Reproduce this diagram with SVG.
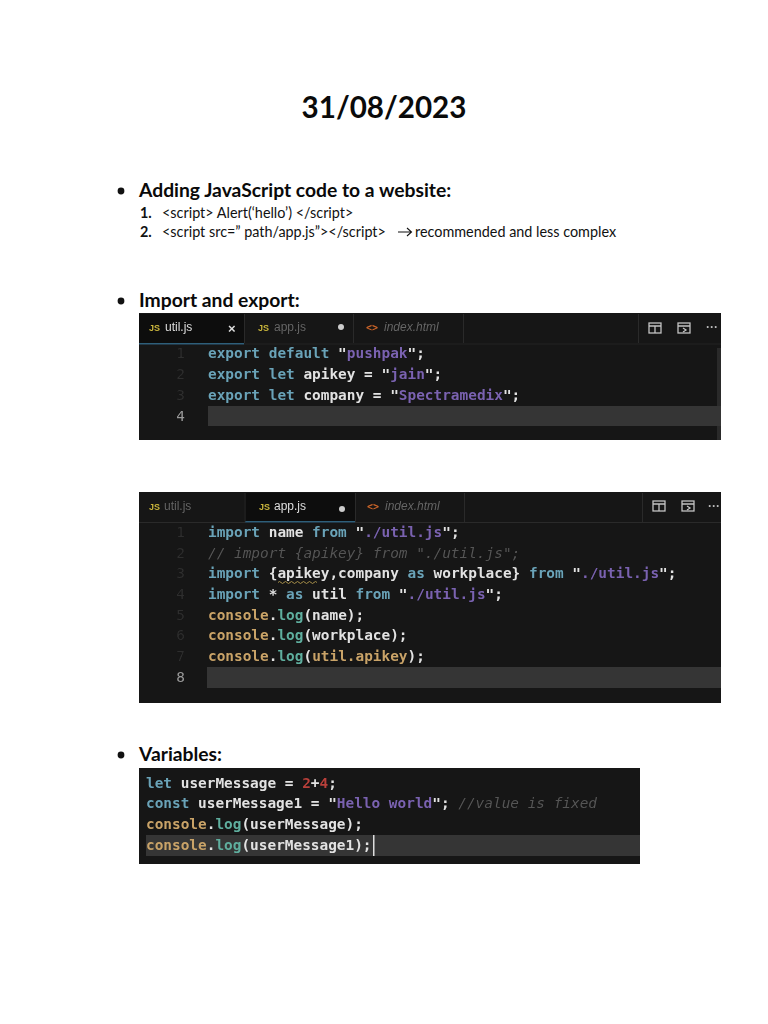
<svg xmlns="http://www.w3.org/2000/svg" width="768" height="1024" viewBox="0 0 768 1024">
<style>
.h{font-family:Lato,"Liberation Sans",sans-serif;font-weight:700;font-size:19.3px;fill:#0a0a0a}
.b{font-family:Lato,"Liberation Sans",sans-serif;font-size:14.4px;fill:#111}
.n{font-weight:700}
.c{font-family:"DejaVu Sans Mono",monospace;font-size:14.42px;fill:#e2e2e2;font-weight:700}
.ln{font-family:"DejaVu Sans Mono",monospace;font-size:14.4px;fill:#2e2e2e;text-anchor:end}
.tab{font-family:"Liberation Sans",sans-serif;font-size:12px;fill:#666}
.act{fill:#ddd}
.i{font-style:italic}
.js{font-family:"Liberation Sans",sans-serif;font-size:9px;font-weight:700;fill:#c9b53c}
.ht{font-family:"DejaVu Sans Mono",monospace;font-size:10px;font-weight:700;fill:#c8642a}
.k{fill:#6aa3b8}.s{fill:#7a62b0}.y{fill:#c9a368}.g{fill:#5fae9e}.r{fill:#b8403a}.m{fill:#555;font-style:italic;font-weight:400}
.cur{fill:#343434}.ico{fill:none;stroke:#c4c4c4;stroke-width:1.3}.sep{stroke:#2a2a2a;stroke-width:1}
.dots{font-family:"Liberation Sans",sans-serif;font-size:12px;font-weight:700;fill:#bbb}
</style>
<defs><filter id="soft" x="-2%" y="-2%" width="104%" height="104%"><feGaussianBlur stdDeviation="0.45"/></filter></defs>
<rect width="768" height="1024" fill="#fff"/>
<text id="title" x="384" y="118" text-anchor="middle" style="font-family:Lato,'Liberation Sans',sans-serif;font-weight:700;font-size:29.6px;fill:#0a0a0a">31/08/2023</text>

<g id="section-adding">
<circle cx="121" cy="191" r="3.4" fill="#111"/>
<text class="h" x="139" y="197">Adding JavaScript code to a website:</text>
<text class="b n" x="140" y="218">1.</text>
<text class="b" x="162" y="218">&lt;script&gt; Alert(‘hello’) &lt;/script&gt;</text>
<text class="b n" x="140" y="237">2.</text>
<text class="b" x="162" y="237">&lt;script src=” path/app.js”&gt;&lt;/script&gt;</text>
<path d="M398 232H411M407 228L411.500 232L407 236" fill="none" stroke="#111" stroke-width="1.100"/>
<text class="b" x="415" y="237">recommended and less complex</text>
</g>

<g id="section-import">
<circle cx="121" cy="301" r="3.4" fill="#111"/>
<text class="h" x="139" y="307">Import and export:</text>
</g>

<g id="panel-util" filter="url(#soft)">
<rect x="139" y="313" width="582" height="127" fill="#131313"/>
<rect x="139" y="314" width="105" height="29" fill="#0f0f0f"/>
<rect x="139" y="343" width="105" height="1.500" fill="#2f5f7a"/>
<rect x="717" y="348" width="4" height="92" fill="#2a2a2a"/>
<path class="sep" d="M244.500 314V343M353.500 314V343M463.500 314V343M638.500 314V343M244 344H721"/>
<text class="js" x="149" y="331">JS</text><text class="tab act" x="165" y="331">util.js</text>
<text x="228" y="333" style="font-family:'Liberation Sans',sans-serif;font-size:13px;font-weight:700;fill:#ddd">×</text>
<text class="js" x="258" y="331">JS</text><text class="tab" x="274" y="331">app.js</text>
<circle cx="341" cy="327" r="3" fill="#ccc"/>
<text class="ht" x="366" y="331">&lt;&gt;</text><text class="tab i" x="384" y="331">index.html</text>
<g class="ico"><rect x="649" y="323" width="12" height="10"/><path d="M649 326H661M655 326V333"/><rect x="678" y="323" width="12" height="10"/><path d="M678 326H690M683 328L686 330L683 332"/></g>
<text class="dots" x="706" y="331">···</text>
<rect class="cur" x="208" y="406" width="513" height="20"/>
<text class="ln" x="185" y="358">1</text><text class="ln" x="185" y="379">2</text><text class="ln" x="185" y="400">3</text><text class="ln" x="185" y="421" style="fill:#999">4</text>
<text class="c" x="208" y="358"><tspan class="k">export default</tspan> "<tspan class="s">pushpak</tspan>";</text>
<text class="c" x="208" y="379"><tspan class="k">export let</tspan> apikey = "<tspan class="s">jain</tspan>";</text>
<text class="c" x="208" y="400"><tspan class="k">export let</tspan> company = "<tspan class="s">Spectramedix</tspan>";</text>
</g>

<g id="panel-app" filter="url(#soft)">
<rect x="139" y="492" width="582" height="211" fill="#131313"/>
<rect x="245" y="493" width="110" height="28" fill="#0f0f0f"/>
<rect x="245" y="521" width="110" height="1.500" fill="#2f5f7a"/>
<path class="sep" d="M245 493V522M355.500 493V522M464.500 493V522M642.500 493V522M139 522.500H245M355 522.500H721"/>
<text class="js" x="149" y="510">JS</text><text class="tab" x="164" y="510">util.js</text>
<text class="js" x="259" y="510">JS</text><text class="tab act" x="274" y="510">app.js</text>
<circle cx="342" cy="509" r="3" fill="#ccc"/>
<text class="ht" x="367" y="510">&lt;&gt;</text><text class="tab i" x="385" y="510">index.html</text>
<g class="ico"><rect x="653" y="501" width="12" height="10"/><path d="M653 504H665M659 504V511"/><rect x="682" y="501" width="12" height="10"/><path d="M682 504H694M687 506L690 508L687 510"/></g>
<text class="dots" x="708" y="510">···</text>
<rect class="cur" x="207" y="667" width="514" height="21"/>
<text class="ln" x="185" y="537">1</text><text class="ln" x="185" y="558">2</text><text class="ln" x="185" y="578">3</text><text class="ln" x="185" y="599">4</text><text class="ln" x="185" y="620">5</text><text class="ln" x="185" y="640">6</text><text class="ln" x="185" y="661">7</text><text class="ln" x="185" y="682" style="fill:#999">8</text>
<text class="c" x="208" y="537"><tspan class="k">import</tspan> name <tspan class="k">from</tspan> "<tspan class="s">./util.js</tspan>";</text>
<text class="c m" x="208" y="558">// import {apikey} from "./util.js";</text>
<text class="c" x="208" y="578"><tspan class="k">import</tspan> {apikey,company <tspan class="k">as</tspan> workplace} <tspan class="k">from</tspan> "<tspan class="s">./util.js</tspan>";</text>
<path d="M278 582.500q1.500-2 3 0t3 0t3 0t3 0t3 0t3 0t3 0t3 0t3 0t3 0t3 0t3 0t3 0" fill="none" stroke="#a8904a" stroke-width="1"/>
<text class="c" x="208" y="599"><tspan class="k">import</tspan> * <tspan class="k">as</tspan> util <tspan class="k">from</tspan> "<tspan class="s">./util.js</tspan>";</text>
<text class="c" x="208" y="620"><tspan class="y">console</tspan>.<tspan class="g">log</tspan>(name);</text>
<text class="c" x="208" y="640"><tspan class="y">console</tspan>.<tspan class="g">log</tspan>(workplace);</text>
<text class="c" x="208" y="661"><tspan class="y">console</tspan>.<tspan class="g">log</tspan>(<tspan class="y">util.apikey</tspan>);</text>
</g>

<g id="section-variables">
<circle cx="121" cy="755" r="3.4" fill="#111"/>
<text class="h" x="139" y="761">Variables:</text>
</g>

<g id="panel-variables" filter="url(#soft)">
<rect x="139" y="768" width="501" height="96" fill="#131313"/>
<rect class="cur" x="146" y="835" width="494" height="21"/>
<rect x="373" y="835" width="1.500" height="21" fill="#ddd"/>
<text class="c" x="146" y="788"><tspan class="k">let</tspan> userMessage = <tspan class="r">2</tspan>+<tspan class="r">4</tspan>;</text>
<text class="c" x="146" y="808"><tspan class="k">const</tspan> userMessage1 = "<tspan class="s">Hello world</tspan>"; <tspan class="m">//value is fixed</tspan></text>
<text class="c" x="146" y="829"><tspan class="y">console</tspan>.<tspan class="g">log</tspan>(userMessage);</text>
<text class="c" x="146" y="850"><tspan class="y">console</tspan>.<tspan class="g">log</tspan>(userMessage1);</text>
</g>
</svg>
